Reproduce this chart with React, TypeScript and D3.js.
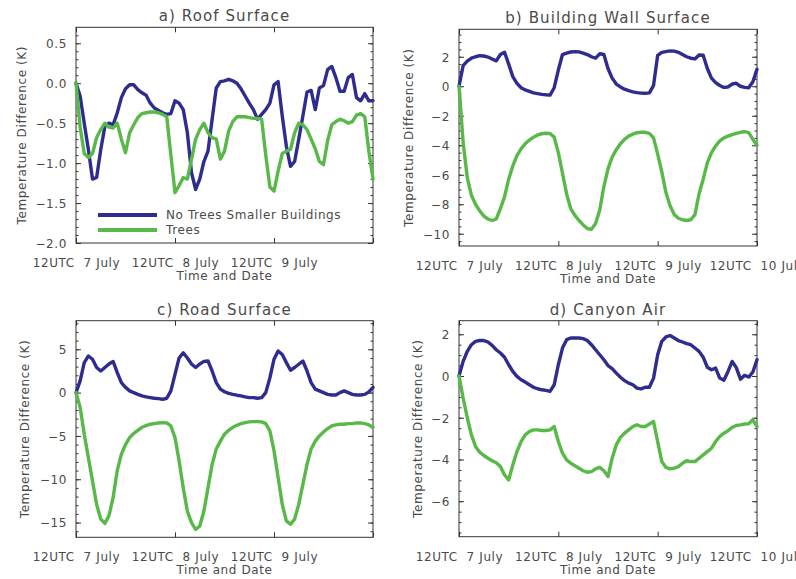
import React, { useEffect, useRef } from "react";
import * as d3 from "d3";

// hourly model output, 12UTC 7 July -> 12UTC 10 July
const hours = d3.range(73);

const roofNoTrees = [
  0.0, -0.16, -0.5, -0.83, -1.2, -1.18, -0.83, -0.54, -0.5, -0.52, -0.37, -0.18, -0.07,
  -0.02, -0.02, -0.08, -0.12, -0.15, -0.25, -0.31, -0.34, -0.37, -0.39, -0.38, -0.22,
  -0.25, -0.33, -0.62, -1.12, -1.33, -1.2, -0.98, -0.85, -0.45, -0.06, 0.02, 0.03, 0.05,
  0.03, 0.0, -0.07, -0.16, -0.25, -0.33, -0.45, -0.39, -0.33, -0.25, -0.02, 0.02, -0.41,
  -0.79, -1.04, -0.98, -0.7, -0.41, -0.11, -0.09, -0.33, -0.06, -0.03, 0.17, 0.21, 0.07,
  -0.1, -0.1, 0.07, 0.11, -0.18, -0.22, -0.13, -0.22, -0.22,
];
const roofTrees = [
  0.0, -0.55, -0.88, -0.93, -0.88, -0.68, -0.58, -0.5, -0.55, -0.56, -0.5, -0.7, -0.87,
  -0.62, -0.52, -0.43, -0.38, -0.37, -0.36, -0.36, -0.37, -0.39, -0.42, -0.9, -1.37,
  -1.28, -1.18, -1.2, -0.95, -0.7, -0.58, -0.5, -0.62, -0.68, -0.7, -0.95, -0.85, -0.6,
  -0.48, -0.42, -0.42, -0.42, -0.43, -0.44, -0.44, -0.45, -0.9, -1.3, -1.35, -1.1, -0.88,
  -0.85, -0.83, -0.62, -0.5, -0.52, -0.58, -0.7, -0.82, -0.98, -1.02, -0.72, -0.52,
  -0.48, -0.45, -0.47, -0.5, -0.48, -0.4, -0.38, -0.42, -0.85, -1.2,
];
const wallNoTrees = [
  0.0, 1.4, 1.7, 1.9, 2.0, 2.07, 2.05, 1.98, 1.85, 1.72, 2.15, 2.3, 1.5, 0.65, 0.2, -0.1,
  -0.25, -0.35, -0.45, -0.5, -0.55, -0.58, -0.6, -0.1, 1.1, 2.15, 2.25, 2.32, 2.35, 2.33,
  2.25, 2.15, 2.0, 1.9, 2.2, 2.15, 1.2, 0.55, 0.15, -0.05, -0.2, -0.3, -0.38, -0.43,
  -0.47, -0.48, -0.45, 0.05, 2.1, 2.3, 2.35, 2.4, 2.38, 2.3, 2.15, 2.0, 1.9, 1.85, 2.12,
  2.1, 1.2, 0.55, 0.25, 0.05, -0.08, -0.05, 0.15, 0.2, 0.0, -0.08, -0.1, 0.3, 1.15,
];
const wallTrees = [
  0.0, -3.8, -6.2, -7.4, -8.0, -8.45, -8.8, -9.0, -9.1, -9.0, -8.3, -7.5, -6.3, -5.4,
  -4.7, -4.25, -3.9, -3.65, -3.45, -3.3, -3.22, -3.19, -3.2, -3.45, -4.5, -5.9, -7.3,
  -8.3, -8.75, -9.1, -9.4, -9.65, -9.7, -9.3, -8.4, -6.8, -5.6, -4.8, -4.3, -3.9, -3.6,
  -3.38, -3.25, -3.15, -3.12, -3.12, -3.2, -3.5, -4.6, -5.8, -7.2, -8.1, -8.7, -8.95,
  -9.05, -9.1, -9.05, -8.7, -7.3, -6.3, -5.2, -4.5, -4.05, -3.7, -3.5, -3.38, -3.28,
  -3.2, -3.12, -3.08, -3.15, -3.6, -4.0,
];
const roadNoTrees = [
  0.0, 1.35, 3.46, 4.23, 3.85, 2.9, 2.5, 2.9, 3.3, 3.6, 2.3, 1.15, 0.6, 0.2, 0.0, -0.2,
  -0.38, -0.5, -0.58, -0.65, -0.7, -0.77, -0.65, 0.2, 2.1, 4.0, 4.6, 4.0, 3.3, 2.9, 3.3,
  3.6, 3.65, 2.5, 1.15, 0.4, 0.1, -0.08, -0.2, -0.3, -0.38, -0.5, -0.58, -0.58, -0.65,
  -0.58, 0.0, 1.7, 3.85, 4.8, 4.4, 3.46, 2.58, 2.9, 3.27, 3.65, 2.5, 1.15, 0.4, 0.2, 0.0,
  -0.2, -0.27, -0.27, 0.0, 0.2, 0.0, -0.2, -0.27, -0.27, -0.2, 0.08, 0.6,
];
const roadTrees = [
  0.0, -1.7, -4.8, -7.5, -10.2, -12.9, -14.6, -15.1, -14.2, -12.1, -9.0, -7.1, -6.0,
  -5.2, -4.7, -4.35, -4.0, -3.8, -3.65, -3.58, -3.5, -3.46, -3.5, -3.85, -5.2, -7.9,
  -11.0, -13.7, -15.0, -15.8, -15.4, -13.7, -11.0, -8.3, -6.5, -5.6, -4.8, -4.35, -4.0,
  -3.77, -3.58, -3.46, -3.38, -3.35, -3.35, -3.38, -3.58, -4.42, -6.7, -9.8, -12.9,
  -14.8, -15.2, -14.6, -12.9, -10.6, -8.3, -6.5, -5.6, -5.0, -4.55, -4.15, -3.85, -3.73,
  -3.65, -3.65, -3.58, -3.58, -3.5, -3.5, -3.58, -3.73, -4.0,
];
const airNoTrees = [
  0.0, 0.7, 1.18, 1.5, 1.66, 1.7, 1.7, 1.63, 1.47, 1.26, 1.1, 0.9, 0.54, 0.22, -0.02,
  -0.18, -0.29, -0.42, -0.54, -0.61, -0.66, -0.69, -0.74, -0.42, 0.54, 1.34, 1.74, 1.82,
  1.82, 1.82, 1.79, 1.7, 1.5, 1.26, 1.02, 0.78, 0.5, 0.35, 0.14, -0.06, -0.22, -0.34,
  -0.42, -0.58, -0.62, -0.54, -0.54, -0.1, 1.02, 1.66, 1.87, 1.94, 1.82, 1.7, 1.63, 1.55,
  1.5, 1.34, 1.18, 0.9, 0.42, 0.3, 0.38, -0.1, -0.2, 0.22, 0.7, 0.4, -0.15, 0.03, -0.05,
  0.19, 0.78,
];
const airTrees = [
  0.0, -1.06, -2.0, -2.82, -3.38, -3.65, -3.81, -3.94, -4.06, -4.16, -4.34, -4.74, -4.98,
  -4.26, -3.62, -3.14, -2.82, -2.66, -2.58, -2.58, -2.61, -2.61, -2.58, -2.42, -3.14,
  -3.7, -4.02, -4.18, -4.3, -4.42, -4.54, -4.61, -4.58, -4.45, -4.38, -4.54, -4.82, -3.94,
  -3.3, -2.94, -2.74, -2.58, -2.42, -2.34, -2.42, -2.42, -2.3, -2.18, -3.14, -4.1, -4.38,
  -4.45, -4.42, -4.34, -4.18, -4.06, -4.1, -4.1, -3.94, -3.78, -3.62, -3.46, -3.14, -2.9,
  -2.74, -2.62, -2.46, -2.37, -2.34, -2.3, -2.29, -2.1, -2.42,
];

const panelTitles = ["a) Roof Surface", "b) Building Wall Surface", "c) Road Surface", "d) Canyon Air"];
const xTickHours = [0, 24, 48, 72];
const xTickLabels = ["12UTC  7 July", "12UTC  8 July", "12UTC  9 July", "12UTC  10 July"];
const seriesNames = ["No Trees Smaller Buildings", "Trees"];

const BLUE = "#2f2c8f";
const GREEN = "#58b948";
const TEXT = "#4a4a4a";
const FONT = "'DejaVu Sans', Verdana, sans-serif";

const panels = [
  {
    title: panelTitles[0], noTrees: roofNoTrees, trees: roofTrees,
    yDomain: [-2.0, 0.7], yTicks: [-2, -1.5, -1, -0.5, 0, 0.5], yMinorStep: 0.1, fmt: d3.format(".1f"),
    left: 76, right: 373, top: 27.3, bottom: 243, ylabelX: 22, xLabels: 3, legend: true,
  },
  {
    title: panelTitles[1], noTrees: wallNoTrees, trees: wallTrees,
    yDomain: [-10.83, 3.86], yTicks: [-10, -8, -6, -4, -2, 0, 2], yMinorStep: 0.5, fmt: d3.format("d"),
    left: 459, right: 757, top: 29.3, bottom: 246, ylabelX: 409, xLabels: 4, legend: false,
  },
  {
    title: panelTitles[2], noTrees: roadNoTrees, trees: roadTrees,
    yDomain: [-16.7, 8.3], yTicks: [-15, -10, -5, 0, 5], yMinorStep: 1, fmt: d3.format("d"),
    left: 76, right: 373, top: 320.7, bottom: 537.3, ylabelX: 25, xLabels: 3, legend: false,
  },
  {
    title: panelTitles[3], noTrees: airNoTrees, trees: airTrees,
    yDomain: [-7.7, 2.65], yTicks: [-6, -4, -2, 0, 2], yMinorStep: 0.5, fmt: d3.format("d"),
    left: 459, right: 757, top: 320.7, bottom: 536.7, ylabelX: 418, xLabels: 4, legend: false,
  },
];

const minus = (s: string) => s.replace("-", "\u2212");

export default function App() {
  const svgRef = useRef<SVGSVGElement>(null);

  useEffect(() => {
    const svg = d3.select(svgRef.current);
    svg.selectAll("*").remove();

    panels.forEach((p) => {
      const g = svg.append("g");
      const x = d3.scaleLinear().domain([0, 72]).range([p.left, p.right]);
      const y = d3.scaleLinear().domain(p.yDomain).range([p.bottom, p.top]);
      const minorTicks = d3
        .range(Math.ceil(p.yDomain[0] / p.yMinorStep), Math.floor(p.yDomain[1] / p.yMinorStep) + 1)
        .map((k) => +(k * p.yMinorStep).toFixed(3));

      // frame
      g.append("rect")
        .attr("x", p.left).attr("y", p.top)
        .attr("width", p.right - p.left).attr("height", p.bottom - p.top)
        .attr("fill", "none").attr("stroke", "#333").attr("stroke-width", 1);

      // y axes, left with labels, right mirrored
      const yl = g.append("g").attr("transform", `translate(${p.left},0)`)
        .call(d3.axisLeft(y).tickValues(p.yTicks).tickSizeInner(-5).tickSizeOuter(0).tickPadding(9)
          .tickFormat((d) => minus(p.fmt(d as number))));
      g.append("g").attr("transform", `translate(${p.left},0)`)
        .call(d3.axisLeft(y).tickValues(minorTicks).tickSize(-2.5).tickFormat(() => ""));
      g.append("g").attr("transform", `translate(${p.right},0)`)
        .call(d3.axisRight(y).tickValues(p.yTicks).tickSize(-5).tickFormat(() => ""));
      g.append("g").attr("transform", `translate(${p.right},0)`)
        .call(d3.axisRight(y).tickValues(minorTicks).tickSize(-2.5).tickFormat(() => ""));

      // x axes
      const xb = g.append("g").attr("transform", `translate(0,${p.bottom})`)
        .call(d3.axisBottom(x).tickValues(xTickHours).tickSize(-5)
          .tickFormat((d, i) => (i < p.xLabels ? xTickLabels[i] : "")));
      g.append("g").attr("transform", `translate(0,${p.top})`)
        .call(d3.axisTop(x).tickValues(xTickHours).tickSize(-5).tickFormat(() => ""));

      g.selectAll(".domain").remove();
      g.selectAll(".tick line").attr("stroke", "#333");
      g.selectAll(".tick text")
        .attr("font-family", FONT).attr("font-size", 12).attr("fill", TEXT)
        .attr("letter-spacing", 0.6).style("white-space", "pre");
      xb.selectAll(".tick text").attr("y", 15.5);
      yl.selectAll(".tick text").attr("dy", "0.36em");

      // series
      const line = d3.line<number>().x((d, i) => x(hours[i])).y((d) => y(d));
      [[p.noTrees, BLUE], [p.trees, GREEN]].forEach(([vals, col]) => {
        g.append("path")
          .datum(vals as number[])
          .attr("d", line)
          .attr("fill", "none")
          .attr("stroke", col as string)
          .attr("stroke-width", 3.4)
          .attr("stroke-linejoin", "round")
          .attr("stroke-linecap", "round");
      });

      // title and axis titles
      g.append("text")
        .attr("x", (p.left + p.right) / 2).attr("y", p.top - 6)
        .attr("text-anchor", "middle").attr("font-family", FONT).attr("font-size", 15)
        .attr("letter-spacing", 1.1).attr("fill", TEXT)
        .text(p.title);
      g.append("text")
        .attr("x", (p.left + p.right) / 2).attr("y", p.bottom + 37)
        .attr("text-anchor", "middle").attr("font-family", FONT).attr("font-size", 12)
        .attr("letter-spacing", 0.6).attr("fill", TEXT)
        .text("Time and Date");
      g.append("text")
        .attr("transform", `translate(${p.ylabelX},${(p.top + p.bottom) / 2}) rotate(-90)`)
        .attr("text-anchor", "middle").attr("dy", "0.36em")
        .attr("font-family", FONT).attr("font-size", 12)
        .attr("letter-spacing", 0.6).attr("fill", TEXT)
        .text("Temperature Difference (K)");

      if (p.legend) {
        const lg = g.append("g");
        [BLUE, GREEN].forEach((col, i) => {
          const ly = 215 + i * 15;
          lg.append("line")
            .attr("x1", 98).attr("x2", 157).attr("y1", ly).attr("y2", ly)
            .attr("stroke", col).attr("stroke-width", 4);
          lg.append("text")
            .attr("x", 166).attr("y", ly).attr("dy", "0.36em")
            .attr("font-family", FONT).attr("font-size", 12)
            .attr("letter-spacing", 0.6).attr("fill", TEXT)
            .text(seriesNames[i]);
        });
      }
    });
  }, []);

  return (
    <div style={{ position: "absolute", left: 0, top: 0 }}>
      <svg ref={svgRef} width={796} height={579} style={{ display: "block", background: "#fff" }} />
    </div>
  );
}
